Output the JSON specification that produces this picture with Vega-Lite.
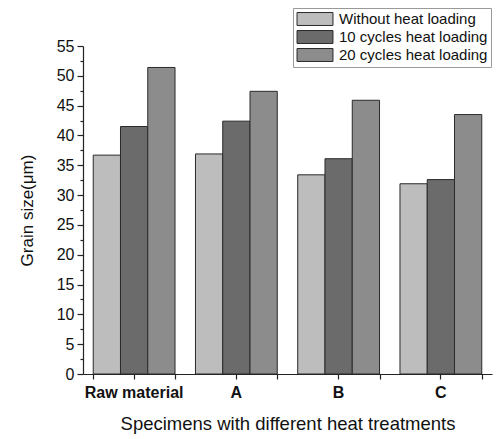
{
  "$schema": "https://vega.github.io/schema/vega-lite/v6.json",
  "autosize": {"type": "none"},
  "padding": {"left": 83, "top": 46, "right": 7, "bottom": 65},
  "width": 409,
  "height": 328,
  "background": "white",
  "config": {
    "font": "Liberation Sans",
    "view": {"stroke": null},
    "axis": {"domainColor": "#222", "tickColor": "#222", "labelColor": "#111", "titleColor": "#111", "grid": false, "domainWidth": 1.2, "tickWidth": 1.2}
  },
  "data": {
    "values": [
      {"specimen": "Raw material", "series": "Without heat loading", "size": 36.7},
      {"specimen": "Raw material", "series": "10 cycles heat loading", "size": 41.5},
      {"specimen": "Raw material", "series": "20 cycles heat loading", "size": 51.4},
      {"specimen": "A", "series": "Without heat loading", "size": 36.9},
      {"specimen": "A", "series": "10 cycles heat loading", "size": 42.4},
      {"specimen": "A", "series": "20 cycles heat loading", "size": 47.4},
      {"specimen": "B", "series": "Without heat loading", "size": 33.4},
      {"specimen": "B", "series": "10 cycles heat loading", "size": 36.1},
      {"specimen": "B", "series": "20 cycles heat loading", "size": 45.9},
      {"specimen": "C", "series": "Without heat loading", "size": 31.9},
      {"specimen": "C", "series": "10 cycles heat loading", "size": 32.6},
      {"specimen": "C", "series": "20 cycles heat loading", "size": 43.5}
    ]
  },
  "resolve": {"axis": {"x": "independent", "y": "independent"}},
  "layer": [
    {
      "mark": {"type": "bar", "opacity": 0},
      "encoding": {
        "x": {
          "field": "specimen", "type": "nominal", "sort": ["Raw material", "A", "B", "C"],
          "scale": {"paddingInner": 0.2, "paddingOuter": 0.1},
          "axis": {"orient": "bottom", "labels": false, "domain": false, "tickBand": "extent", "tickSize": 5, "title": null}
        },
        "y": {
          "field": "size", "type": "quantitative",
          "scale": {"domain": [0, 55], "nice": false},
          "axis": {"orient": "left", "labels": false, "domain": false, "values": [2.5, 7.5, 12.5, 17.5, 22.5, 27.5, 32.5, 37.5, 42.5, 47.5, 52.5], "tickSize": 3, "title": null}
        }
      }
    },
    {
      "mark": {"type": "bar", "stroke": "#2a2a2a", "strokeWidth": 1},
      "encoding": {
        "x": {
          "field": "specimen", "type": "nominal", "sort": ["Raw material", "A", "B", "C"],
          "scale": {"paddingInner": 0.2, "paddingOuter": 0.1},
          "axis": {"orient": "bottom", "labelAngle": 0, "labelFontSize": 16, "labelFontWeight": "bold", "tickSize": 5, "labelPadding": 5, "title": "Specimens with different heat treatments", "titleFontSize": 18.5, "titleFontWeight": "normal", "titlePadding": 14}
        },
        "xOffset": {
          "field": "series", "type": "nominal", "sort": ["Without heat loading", "10 cycles heat loading", "20 cycles heat loading"],
          "scale": {"paddingInner": 0, "paddingOuter": 0}
        },
        "y": {
          "field": "size", "type": "quantitative",
          "scale": {"domain": [0, 55], "nice": false},
          "axis": {"orient": "left", "values": [0, 5, 10, 15, 20, 25, 30, 35, 40, 45, 50, 55], "labelFontSize": 16, "tickSize": 6, "labelPadding": 3, "title": "Grain size(μm)", "titleFontSize": 17, "titleFontWeight": "normal", "titlePadding": 20}
        },
        "fill": {
          "field": "series", "type": "nominal", "sort": ["Without heat loading", "10 cycles heat loading", "20 cycles heat loading"],
          "scale": {"range": ["#bdbdbd", "#6b6b6b", "#8c8c8c"]},
          "legend": {
            "title": null, "orient": "none", "legendX": 210, "legendY": -38,
            "symbolType": "M-2.5,-0.9h5v1.8h-5Z", "symbolSize": 207, "symbolOffset": 11, "symbolStrokeColor": "#2a2a2a", "symbolStrokeWidth": 1,
            "symbolOpacity": 1,
            "labelFontSize": 15, "labelColor": "#111", "labelOffset": 16, "rowPadding": 0,
            "strokeColor": "#999", "padding": 3, "fillColor": "white"
          }
        }
      }
    }
  ]
}
